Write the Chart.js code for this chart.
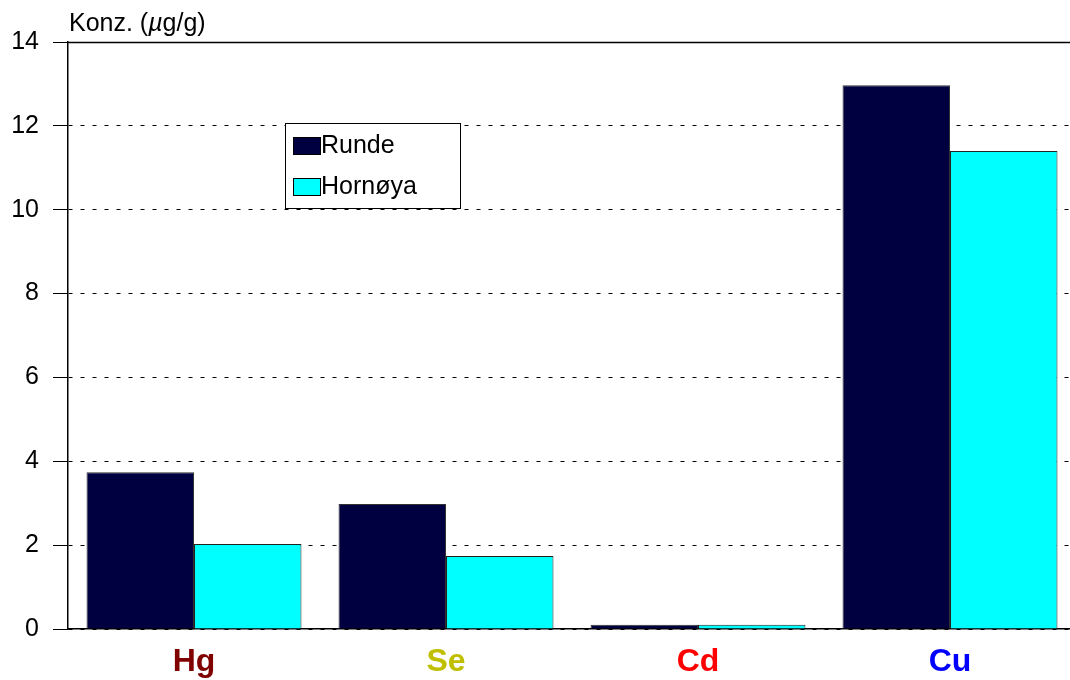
<!DOCTYPE html>
<html>
<head>
<meta charset="utf-8">
<script src="https://cdn.jsdelivr.net/npm/chart.js@4"></script>
<style>
  html, body { margin: 0; padding: 0; background: #fff; overflow: hidden; }
  #wrap { width: 1076px; height: 680px; }
</style>
</head>
<body>
<div id="wrap"><canvas id="grafico" width="1076" height="680"></canvas></div>
<script>
// Datos
const elementos = ["Hg", "Se", "Cd", "Cu"];
const coloresElementos = ["#800000", "#BFBF00", "#FF0000", "#0000FF"];
const runde = [3.74, 2.98, 0.1, 12.97];
const hornoya = [2.03, 1.74, 0.1, 11.4];
const ticksY = [0, 2, 4, 6, 8, 10, 12, 14];

const fuente = "'Liberation Sans', Arial, Helvetica, sans-serif";

// Titulo del eje, linea superior y leyenda
const extras = {
  id: "extras",
  afterDraw(chart) {
    const ctx = chart.ctx;
    const area = chart.chartArea;
    ctx.save();

    // linea superior solida
    ctx.strokeStyle = "#000";
    ctx.lineWidth = 1.5;
    ctx.beginPath();
    ctx.moveTo(area.left, area.top + 0.5);
    ctx.lineTo(area.right, area.top + 0.5);
    ctx.stroke();

    // titulo "Konz. (µg/g)"
    ctx.fillStyle = "#000";
    ctx.textBaseline = "alphabetic";
    let x = 69;
    const y = 31;
    const partes = [["Konz. (", ""], ["\u00b5", "italic "], ["g/g)", ""]];
    partes.forEach(([t, estilo]) => {
      ctx.font = estilo + "25px " + fuente;
      ctx.fillText(t, x, y);
      x += ctx.measureText(t).width;
    });

    // leyenda
    const lx = 285, ly = 123, lw = 175, lh = 85;
    ctx.fillStyle = "#fff";
    ctx.fillRect(lx, ly, lw, lh);
    ctx.strokeStyle = "#000";
    ctx.lineWidth = 1;
    ctx.strokeRect(lx + 0.5, ly + 0.5, lw, lh);
    chart.data.datasets.forEach((ds, i) => {
      const sy = 137 + i * 41;
      ctx.fillStyle = ds.backgroundColor;
      ctx.fillRect(293, sy, 27, 17);
      ctx.strokeStyle = "#000";
      ctx.strokeRect(293.5, sy + 0.5, 27, 17);
      ctx.fillStyle = "#000";
      ctx.font = "25px " + fuente;
      ctx.textBaseline = "middle";
      ctx.fillText(ds.label, 321, sy + 9);
    });
    ctx.restore();
  }
};

new Chart(document.getElementById("grafico"), {
  type: "bar",
  data: {
    labels: elementos,
    datasets: [
      {
        label: "Runde",
        data: runde,
        backgroundColor: "#000040",
        borderColor: "#333",
        borderWidth: 1,
        categoryPercentage: 0.853,
        barPercentage: 1
      },
      {
        label: "Hornøya",
        data: hornoya,
        backgroundColor: "#00FFFF",
        borderColor: "#222",
        borderWidth: 1,
        categoryPercentage: 0.853,
        barPercentage: 1
      }
    ]
  },
  options: {
    responsive: false,
    animation: false,
    layout: { padding: { top: 42, right: 0, left: 0, bottom: 0 } },
    plugins: {
      legend: { display: false },
      tooltip: { enabled: false }
    },
    scales: {
      x: {
        grid: { display: false },
        border: { display: true, color: "#000", width: 1.5 },
        ticks: {
          color: (c) => coloresElementos[c.index],
          font: { family: fuente, size: 32, weight: "bold" },
          padding: 6
        },
        afterFit: (s) => { s.height = 51; }
      },
      y: {
        min: 0,
        max: 14,
        afterBuildTicks: (s) => { s.ticks = ticksY.map(v => ({ value: v })); },
        grid: {
          color: "#000",
          lineWidth: 1,
          tickLength: 15,
          tickBorderDash: [],
          tickColor: "#000",
          drawTicks: true
        },
        border: { display: true, color: "#000", width: 1.5, dash: [4, 8] },
        ticks: {
          color: "#000",
          font: { family: fuente, size: 25 },
          padding: 14
        },
        afterFit: (s) => { s.width = 68; }
      }
    }
  },
  plugins: [extras]
});
</script>
</body>
</html>
